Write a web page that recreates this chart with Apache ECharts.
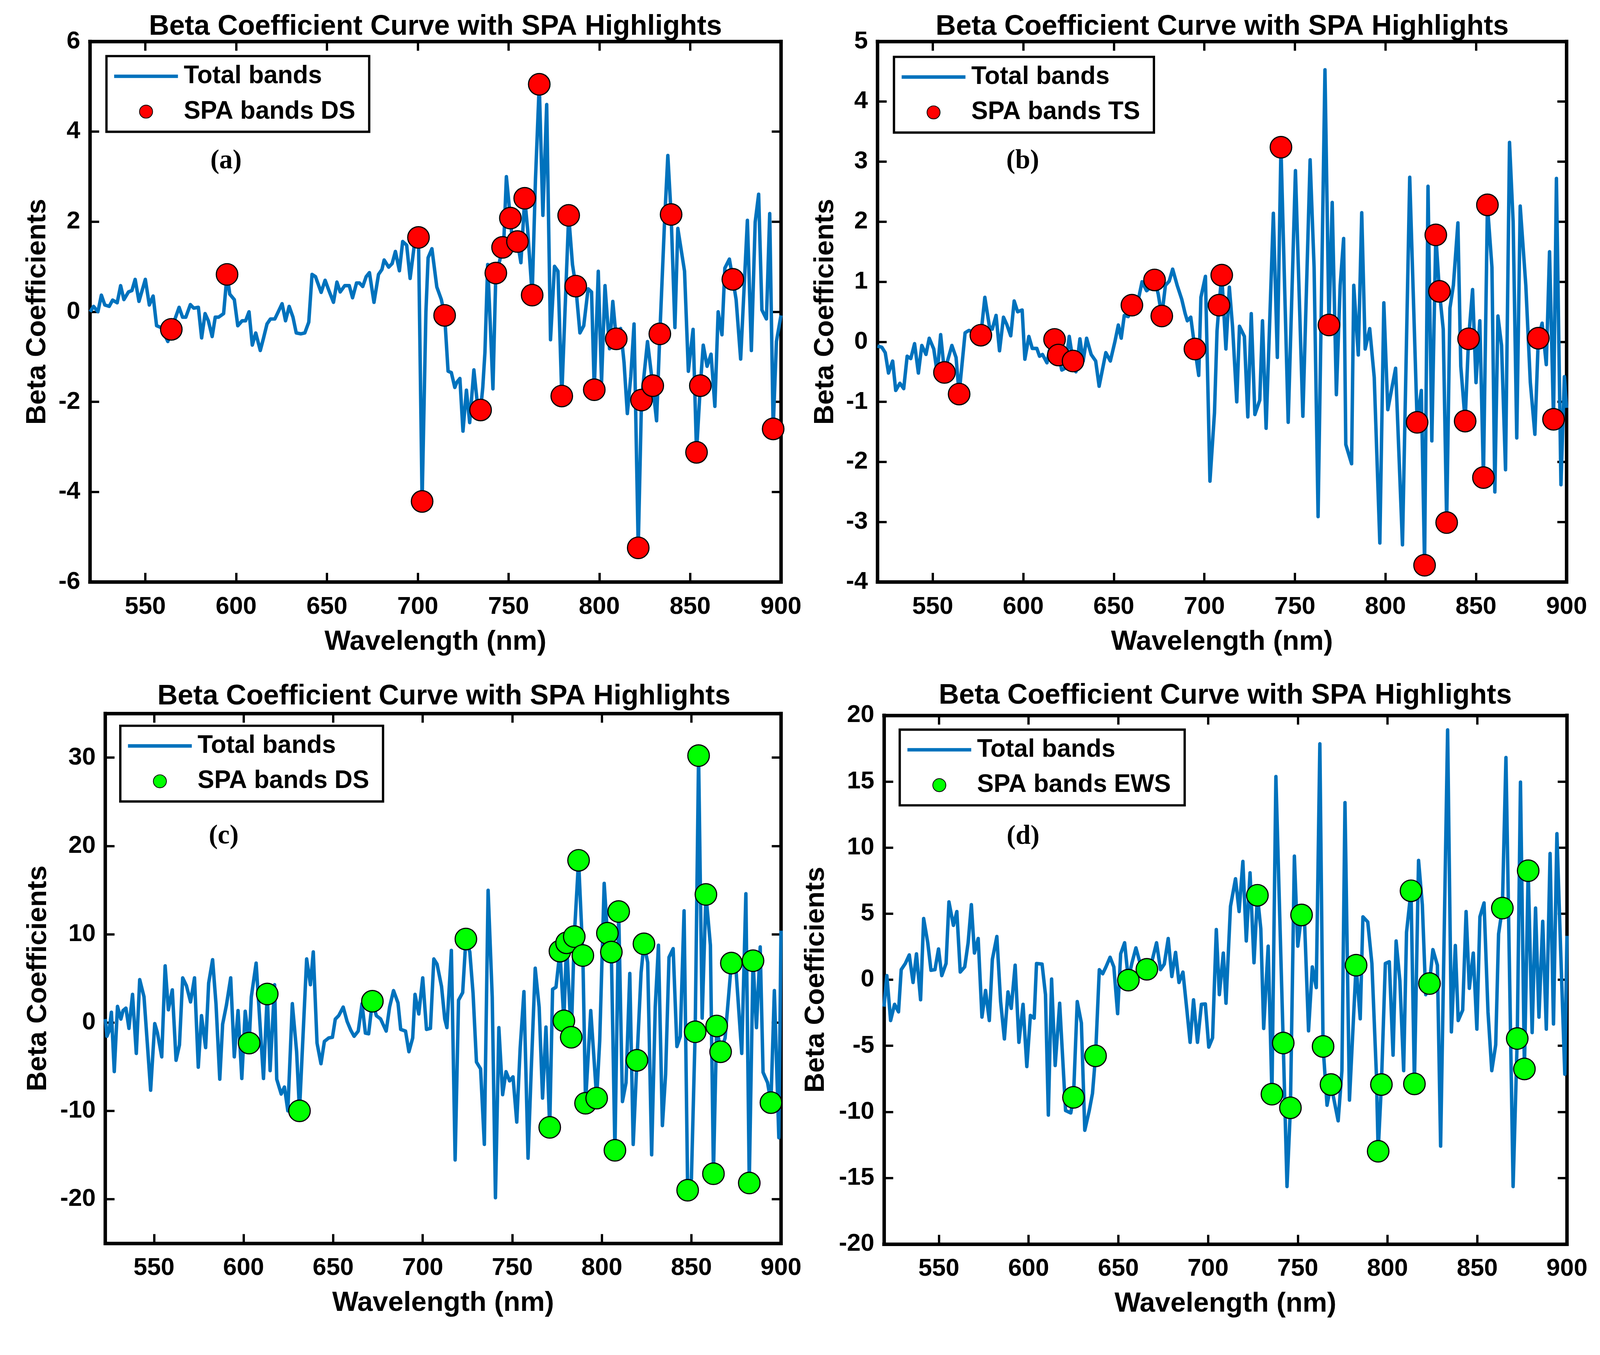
<!DOCTYPE html>
<html>
<head>
<meta charset="utf-8">
<title>Beta Coefficient Curves with SPA Highlights</title>
<script src="https://cdn.jsdelivr.net/npm/echarts@6/dist/echarts.min.js"></script>
<style>
  html, body { margin: 0; padding: 0; background: #fff; overflow: hidden; }
  #chart { width: 100vw; height: 100vh; }
</style>
</head>
<body>
<div id="chart"></div>
<script>
// ---- data ----
var xTicks = [550, 600, 650, 700, 750, 800, 850, 900];
var yTicksA = [-6, -4, -2, 0, 2, 4, 6];
var yTicksB = [-4, -3, -2, -1, 0, 1, 2, 3, 4, 5];
var yTicksC = [-20, -10, 0, 10, 20, 30];
var yTicksD = [-20, -15, -10, -5, 0, 5, 10, 15, 20];

// (a) DS, red markers
var wlA = [519.6,521.5,523.9,525.8,527.7,530.1,532.0,534.5,536.4,538.2,
  540.7,542.6,544.4,546.5,550.0,552.2,554.3,556.2,558.7,562.4,
  564.3,568.6,570.5,572.3,574.8,576.7,579.2,581.0,582.9,584.7,
  586.8,588.5,590.3,593.1,595.0,596.5,599.0,600.9,603.3,605.2,
  607.1,608.9,610.8,613.3,615.1,617.0,618.9,621.3,623.2,625.3,
  627.2,629.2,631.3,633.1,635.6,637.8,640.0,641.8,643.7,646.8,
  649.0,651.1,653.6,655.5,657.3,659.8,662.3,664.1,666.3,667.9,
  669.7,671.6,673.4,675.9,678.4,680.3,681.5,684.0,685.9,687.7,
  689.9,691.7,693.9,695.8,698.3,700.4,702.4,704.5,705.7,707.8,
  710.5,713.0,714.8,716.7,718.5,720.4,721.6,723.2,724.9,726.8,
  728.6,730.9,732.7,734.6,735.8,737.0,738.5,740.1,741.4,743.0,
  745.1,746.7,747.5,748.8,751.0,752.5,754.9,756.8,758.9,760.5,
  763.0,764.8,766.9,768.9,771.0,773.1,775.3,777.2,779.3,783.1,
  785.2,787.0,789.3,791.4,793.8,795.7,797.2,799.4,801.2,803.1,
  805.6,807.4,809.3,811.7,813.6,815.4,817.3,819.1,821.4,823.2,
  826.5,829.4,831.5,833.3,835.8,837.7,839.5,841.6,843.2,846.9,
  849.0,851.6,853.5,855.6,857.2,859.3,861.5,863.6,865.4,867.5,
  869.1,871.6,873.5,875.3,877.8,881.5,883.7,885.8,887.7,889.5,
  892.0,893.8,895.7,897.5,900.0];
var betaA = [0.0,0.12,0.0,0.37,0.15,0.12,0.26,0.2,0.58,0.27,
  0.44,0.47,0.72,0.23,0.72,0.15,0.35,-0.31,-0.35,-0.66,
  -0.39,0.1,-0.12,-0.12,0.16,0.08,0.1,-0.58,-0.04,-0.2,
  -0.55,-0.12,-0.12,-0.04,0.83,0.39,0.27,-0.31,-0.2,-0.2,
  0.0,-0.74,-0.47,-0.86,-0.58,-0.27,-0.16,-0.16,0.0,0.18,
  -0.2,0.12,-0.12,-0.47,-0.49,-0.47,-0.23,0.83,0.78,0.43,
  0.7,0.47,0.21,0.66,0.44,0.58,0.58,0.31,0.64,0.64,
  0.56,0.78,0.87,0.21,0.83,0.94,1.15,0.99,1.07,1.34,
  0.91,1.56,1.48,0.74,1.54,1.65,-4.21,0.0,1.2,1.4,
  0.55,0.27,-0.08,-1.32,-1.35,-1.68,-1.56,-1.48,-2.65,-1.74,
  -2.46,-1.29,-1.99,-2.18,-1.68,-0.9,1.05,-0.43,-1.71,0.86,
  1.13,1.43,1.68,3.0,2.08,1.36,1.56,1.09,2.52,1.83,
  0.37,2.92,5.05,2.14,4.6,-0.62,1.01,0.9,-1.87,2.14,
  1.05,0.57,-0.47,-0.31,0.51,0.44,-1.73,0.9,-1.56,0.58,
  -0.82,0.23,-0.6,-0.37,-1.13,-2.26,-1.44,-0.27,-5.24,-1.96,
  -0.66,-1.64,-2.42,-0.49,1.91,3.47,2.16,-0.35,1.85,0.9,
  -1.32,-0.39,-3.12,-1.64,-0.74,-1.21,-0.94,-2.1,0.0,-0.51,
  0.97,1.17,0.72,0.27,-1.05,2.03,-0.86,1.99,2.61,0.04,
  -0.16,2.18,-2.6,-0.66,-0.08];
var spaWlA = [564.3,595.0,700.4,702.4,714.8,734.6,743.0,746.7,751.0,754.9,758.9,763.0,766.9,779.3,
  783.1,787.0,797.2,809.3,821.4,823.2,829.4,833.3,839.5,853.5,855.6,873.5,895.7];
var spaA = [-0.39,0.83,1.65,-4.21,-0.08,-2.18,0.86,1.43,2.08,1.56,2.52,0.37,5.05,-1.87,
  2.14,0.57,-1.73,-0.6,-5.24,-1.96,-1.64,-0.49,2.16,-3.12,-1.64,0.72,-2.6];

// (b) TS, red markers
var wlB = [519.5,521.9,523.8,525.6,527.9,529.6,531.9,534.0,535.9,537.9,
  540.0,542.1,544.0,546.3,548.1,550.6,552.5,554.4,556.5,557.9,
  560.6,562.9,564.6,567.9,570.0,573.2,576.6,578.8,581.3,582.9,
  585.0,586.9,589.1,590.9,593.1,595.0,596.9,599.4,600.9,603.1,
  605.0,607.5,609.0,610.6,613.1,614.4,617.3,619.4,621.3,623.1,
  625.4,627.5,629.1,631.3,633.1,635.0,637.5,640.0,641.9,645.6,
  648.1,650.6,652.5,654.1,655.8,658.0,660.0,662.5,665.6,668.1,
  670.0,672.5,674.5,676.5,678.5,680.6,682.5,685.0,687.5,689.4,
  690.6,692.5,694.8,696.9,698.1,700.6,703.1,705.6,707.0,708.1,
  709.6,711.9,713.8,715.6,717.9,719.4,722.1,724.0,725.9,727.9,
  730.6,732.1,734.1,738.1,740.3,742.3,746.3,750.3,754.4,758.4,
  760.6,762.8,766.6,768.8,770.6,772.9,775.0,776.9,778.1,781.3,
  782.5,785.0,786.9,788.8,791.3,793.8,796.9,799.1,801.3,805.6,
  809.4,813.4,817.5,819.8,821.6,823.5,825.6,827.8,829.8,831.9,
  833.8,835.6,837.5,840.0,841.6,844.0,845.9,848.1,850.0,852.1,
  854.1,856.3,858.8,860.4,862.1,864.1,866.3,868.5,870.5,872.5,
  874.4,877.5,880.0,882.5,884.4,886.5,888.8,890.6,892.8,894.4,
  896.9,898.8,900.0];
var betaB = [-0.07,-0.09,-0.18,-0.52,-0.32,-0.81,-0.69,-0.78,-0.24,-0.28,
  -0.03,-0.52,-0.06,-0.21,0.06,-0.12,-0.52,0.12,-0.51,-0.35,
  -0.06,-0.26,-0.87,0.15,0.19,0.15,0.11,0.74,0.26,0.21,
  0.44,-0.15,0.41,0.29,0.1,0.68,0.5,0.53,-0.29,0.09,
  -0.11,-0.11,-0.24,-0.21,-0.35,-0.15,0.04,-0.22,-0.47,-0.44,
  0.09,-0.32,-0.5,0.05,-0.32,0.06,-0.21,-0.32,-0.74,-0.18,
  -0.32,0.0,0.28,0.06,0.44,0.42,0.61,0.55,1.0,0.85,
  0.9,1.03,0.8,0.43,0.94,1.01,1.21,0.94,0.71,0.47,
  0.35,0.41,-0.12,-0.56,0.74,1.09,-2.32,-1.18,0.18,0.61,
  1.11,-0.12,0.91,0.24,-1.0,0.26,0.09,-1.25,0.47,-1.21,
  -0.97,0.35,-1.44,2.14,-0.26,3.24,-1.34,2.85,-1.24,3.03,
  1.24,-2.91,4.53,0.28,2.32,-0.88,0.94,1.72,-1.71,-2.03,
  0.94,-0.22,2.15,-0.12,0.22,-0.59,-3.35,0.65,-1.13,-0.44,
  -3.38,2.74,-1.34,-0.81,-3.72,2.59,-1.65,1.78,0.84,0.21,
  -3.01,0.56,0.94,1.98,-0.41,-1.32,0.05,0.87,-0.68,0.35,
  -2.26,2.28,1.24,-2.5,0.43,-0.06,-2.13,3.32,2.0,-1.6,
  2.26,0.94,-0.68,-1.54,0.06,0.31,-0.38,1.5,-1.29,2.72,
  -2.38,-0.58,-1.1];
var spaWlB = [556.5,564.6,576.6,617.3,619.4,627.5,660.0,672.5,676.5,694.8,708.1,709.6,742.3,
  768.8,817.5,821.6,827.8,829.8,833.8,844.0,845.9,854.1,856.3,884.4,892.8];
var spaB = [-0.51,-0.87,0.11,0.04,-0.22,-0.32,0.61,1.03,0.43,-0.12,0.61,1.11,3.24,
  0.28,-1.34,-3.72,1.78,0.84,-3.01,-1.32,0.05,-2.26,2.28,0.06,-1.29];

// (c) DS, green markers
var wlC = [522.8,523.7,524.9,526.2,527.8,529.6,531.5,532.7,534.3,536.0,
  538.0,540.1,542.0,544.4,546.3,548.1,550.4,551.9,554.3,556.2,
  558.0,560.2,562.3,564.2,566.0,568.1,570.4,572.6,574.7,576.5,
  578.8,580.5,582.7,584.6,586.7,588.3,590.4,592.8,594.8,596.9,
  599.0,600.9,603.1,604.3,607.0,611.1,613.2,614.8,617.3,618.5,
  621.0,622.8,624.7,627.2,629.6,631.2,635.2,637.3,638.9,641.0,
  643.2,645.1,647.5,649.6,651.2,653.1,655.6,657.8,659.9,661.7,
  664.0,666.1,668.0,669.8,671.9,674.1,676.5,679.6,681.5,683.7,
  686.2,687.7,690.4,692.3,694.4,695.7,697.8,700.0,702.1,704.3,
  706.2,708.0,710.5,712.3,713.5,716.0,718.1,720.0,722.3,724.1,
  726.3,728.1,730.0,732.3,734.4,736.5,738.8,740.6,742.5,744.6,
  746.5,748.5,750.4,752.5,754.4,756.5,758.8,760.6,762.8,765.0,
  766.9,768.8,770.9,772.5,774.4,776.6,778.8,780.3,782.9,784.6,
  787.0,789.4,790.9,793.8,797.1,798.8,801.3,803.1,805.3,807.3,
  809.4,811.5,813.5,815.6,817.5,819.6,821.9,823.5,825.6,827.8,
  829.8,831.6,833.8,835.6,837.5,839.8,841.9,843.8,845.9,847.9,
  850.0,852.1,854.0,856.0,858.1,860.6,862.3,864.1,866.3,868.8,
  872.3,875.0,878.1,880.4,882.3,884.4,886.3,888.4,890.0,892.5,
  894.4,896.3,898.8,900.0];
var betaC = [0.4,-1.56,-0.97,1.17,-5.56,1.83,0.39,1.36,1.63,-0.66,
  3.19,-3.5,4.86,2.92,-2.5,-7.67,-0.12,-1.17,-3.89,6.42,
  1.44,3.7,-4.28,-2.53,5.06,4.16,2.33,5.06,-5.06,0.78,
  -2.84,4.47,7.12,2.1,-6.42,-0.19,1.95,5.06,-3.89,1.36,
  -6.34,1.28,-2.33,2.9,6.73,-6.34,3.23,-5.45,4.28,-6.42,
  -8.1,-7.3,-10.0,2.14,-3.3,-10.0,7.2,4.28,8.0,-2.33,
  -4.67,-2.14,-1.75,-1.67,0.39,0.78,1.75,0.12,-0.9,-1.56,
  -0.97,2.14,-1.2,-1.28,2.41,0.78,0.4,-0.97,1.75,3.62,
  2.22,-0.78,-0.97,-3.31,-1.75,3.19,0.97,5.06,-0.78,-0.66,
  7.2,6.61,4.09,0.39,-0.58,8.17,-15.56,2.53,3.39,9.46,
  7.98,3.3,-4.47,-5.25,-13.8,14.98,2.9,-19.84,-0.58,-8.17,
  -5.56,-6.61,-6.15,-11.28,-2.9,3.5,-15.37,-5.25,6.15,1.75,
  -8.56,-0.51,-11.87,3.77,4.0,8.09,0.19,9.03,-1.67,9.73,
  18.37,7.59,-9.14,1.36,-8.56,-2.1,15.76,10.12,7.98,-14.47,
  12.57,-8.95,-6.81,5.56,-13.81,-4.28,5.64,8.91,6.81,-14.98,
  1.75,8.75,-11.67,-5.84,7.39,8.37,-2.72,-1.56,12.65,-18.99,
  -17.7,-1.05,30.23,0.5,14.51,8.75,-17.12,-0.39,-3.31,-1.75,
  6.73,5.64,-3.5,14.59,-18.17,7.0,-0.58,8.56,-5.64,-6.8,
  -9.07,3.62,-13.04,10.4];
var spaWlC = [603.1,613.2,631.2,671.9,724.1,770.9,776.6,778.8,780.3,782.9,784.6,787.0,789.4,790.9,
  797.1,803.1,805.3,807.3,809.4,819.6,823.5,847.9,852.1,854.0,858.1,862.3,864.1,866.3,872.3,
  882.3,884.4,894.4];
var spaC = [-2.33,3.23,-10.0,2.41,9.46,-11.87,8.09,0.19,9.03,-1.67,9.73,18.37,7.59,-9.14,
  -8.56,10.12,7.98,-14.47,12.57,-4.28,8.91,-18.99,-1.05,30.23,14.51,-17.12,-0.39,-3.31,6.73,
  -18.17,7.0,-9.07];

// (d) EWS, green markers
var wlD = [519.4,521.0,523.1,525.3,527.5,529.0,531.3,533.5,535.6,537.5,
  539.8,541.5,543.8,545.6,547.8,549.8,551.6,554.0,555.6,558.1,
  560.0,561.9,564.4,566.3,568.1,569.8,571.9,574.0,576.0,578.1,
  579.8,582.3,584.4,586.5,588.5,590.3,592.5,594.6,596.9,599.0,
  601.0,603.1,604.4,607.5,609.4,611.0,612.8,614.8,617.3,620.6,
  623.5,625.0,627.1,629.4,631.3,633.8,635.6,637.3,639.4,641.3,
  643.1,645.4,647.5,649.6,651.3,653.5,655.6,657.5,659.8,661.9,
  665.9,668.0,671.3,673.5,675.6,677.8,679.8,681.9,683.8,686.0,
  688.1,690.0,691.9,694.1,696.3,698.5,700.4,702.5,704.6,706.3,
  708.5,710.0,712.5,715.3,717.3,719.4,721.3,723.4,725.6,727.5,
  729.4,731.0,733.5,735.6,737.8,741.9,744.0,745.9,748.1,750.0,
  752.1,753.8,756.0,758.1,760.3,762.3,764.1,766.3,768.5,772.5,
  774.6,776.3,778.8,782.5,784.8,786.3,789.0,791.3,793.8,794.8,
  796.6,798.8,801.0,803.1,804.8,806.9,809.0,810.6,813.1,815.0,
  817.3,819.4,821.3,823.4,825.3,827.8,829.6,833.5,835.6,837.8,
  839.4,841.9,843.8,845.6,847.8,849.8,851.5,853.8,856.0,858.1,
  860.3,861.9,864.0,866.0,870.0,872.3,874.1,876.3,878.4,880.6,
  882.5,884.4,886.5,888.5,890.6,892.5,894.4,896.5,898.8,900.0];
var betaD = [-2.04,0.31,-3.09,-1.86,-2.43,0.76,1.23,1.88,-0.21,1.96,
  -1.52,4.63,2.8,0.71,0.76,2.33,0.31,1.23,5.89,4.11,
  5.16,0.58,0.97,2.8,5.68,2.02,3.12,-2.83,-0.81,-3.09,
  1.54,3.27,-1.65,-4.48,-0.92,-2.17,1.1,-4.74,-1.86,-6.57,
  -2.7,-2.91,1.23,1.18,-1.13,-10.24,0.05,-6.49,-1.78,-9.9,
  -10.08,-8.9,-1.65,-3.27,-11.39,-9.9,-8.59,-5.76,0.76,0.45,
  0.97,1.7,0.97,-2.57,1.96,2.8,-0.03,1.23,2.41,1.36,
  0.79,1.0,2.8,0.76,1.18,3.12,0.24,2.07,-0.21,0.58,
  -2.17,-4.74,-1.52,-4.74,-1.86,-1.83,-5.1,-4.4,3.8,-1.13,
  2.02,-1.78,5.55,7.64,5.16,8.95,2.93,8.09,1.28,6.39,
  3.85,-3.69,2.54,-8.66,15.37,-4.79,-15.65,-9.69,9.35,2.54,
  4.9,4.3,-3.87,0.97,-0.6,17.85,-5.05,-9.5,-7.93,-10.68,
  -6.88,13.4,-9.11,1.1,-2.96,4.76,4.37,1.23,-7.15,-12.98,
  -7.93,1.23,1.36,-5.71,2.93,-0.08,-6.88,3.59,6.73,-7.88,
  9.03,5.68,-1.13,-0.29,2.28,1.1,-12.59,18.9,-3.95,2.59,
  -3.09,-2.3,5.16,-0.65,2.02,-3.74,4.76,5.81,-2.43,-6.88,
  -4.92,3.46,5.42,16.81,-15.65,-4.45,14.95,-6.75,8.25,-4.0,
  5.42,-2.83,4.42,-3.74,9.55,-3.35,11.05,2.2,-7.15,3.32];
var spaWlD = [625.0,637.3,655.6,665.9,727.5,735.6,741.9,745.9,752.1,764.1,768.5,782.5,794.8,796.6,
  813.1,815.0,823.4,864.0,872.3,876.3,878.4];
var spaD = [-8.9,-5.76,-0.03,0.79,6.39,-8.66,-4.79,-9.69,4.9,-5.05,-7.93,1.1,-12.98,-7.93,
  6.73,-7.88,-0.29,5.42,-4.45,-6.75,8.25];

// ---- styling / layout (designed for a 4163 x 3470 page, scaled to the real size) ----
var SANS = '"Liberation Sans", Arial, Helvetica, sans-serif';
var SERIF = '"Liberation Serif", "Times New Roman", serif';
var BLUE = '#0072BD';
var TITLE = 'Beta Coefficient Curve with SPA Highlights';

var panels = [
  { tag: '(a)', wl: wlA, beta: betaA, spaWl: spaWlA, spa: spaA, spaName: 'SPA bands DS', spaColor: '#FF0000',
    yTicks: yTicksA, box: [234, 108, 2032, 1515], xMin: 519.5, yMin: -6, yMax: 6, yNameGap: 100,
    legendPos: [277, 146], tagPos: [588, 420], titlePos: [1133, 70] },
  { tag: '(b)', wl: wlB, beta: betaB, spaWl: spaWlB, spa: spaB, spaName: 'SPA bands TS', spaColor: '#FF0000',
    yTicks: yTicksB, box: [2283, 108, 4076, 1515], xMin: 519.5, yMin: -4, yMax: 5, yNameGap: 99,
    legendPos: [2326, 148], tagPos: [2661, 420], titlePos: [3180, 70] },
  { tag: '(c)', wl: wlC, beta: betaC, spaWl: spaWlC, spa: spaC, spaName: 'SPA bands DS', spaColor: '#00FF00',
    yTicks: yTicksC, box: [274, 1857, 2032, 3236], xMin: 522.8, yMin: -25, yMax: 35, yNameGap: 138,
    legendPos: [313, 1889], tagPos: [582, 2177], titlePos: [1155, 1813] },
  { tag: '(d)', wl: wlD, beta: betaD, spaWl: spaWlD, spa: spaD, spaName: 'SPA bands EWS', spaColor: '#00FF00',
    yTicks: yTicksD, box: [2300, 1862, 4077, 3238], xMin: 519.4, yMin: -20, yMax: 20, yNameGap: 140,
    legendPos: [2341, 1899], tagPos: [2662, 2178], titlePos: [3188, 1811] }
];

function pairs(xs, ys) {
  var out = [];
  for (var i = 0; i < xs.length; i++) out.push([xs[i], ys[i]]);
  return out;
}

var chart = echarts.init(document.getElementById('chart'));
var k = Math.min(chart.getWidth() / 4163, chart.getHeight() / 3470);
function S(v) { return v * k; }

var option = {
  backgroundColor: '#ffffff',
  animation: false,
  grid: [], xAxis: [], yAxis: [], legend: [], series: [], graphic: []
};

var boxLine = { onZero: false, lineStyle: { color: '#000', width: S(9), cap: 'square' } };
var labelFont = { fontFamily: SANS, fontWeight: 'bold', fontSize: S(64), color: '#000' };
var nameFont = { fontFamily: SANS, fontWeight: 'bold', fontSize: S(72), color: '#000' };

function ticks(vals) {
  return { inside: true, length: S(24), customValues: vals, lineStyle: { color: '#000', width: S(6) } };
}

panels.forEach(function (p, i) {
  var b = p.box;
  option.grid.push({ left: S(b[0]), top: S(b[1]), width: S(b[2] - b[0]), height: S(b[3] - b[1]) });

  // bottom + mirrored top x axis
  option.xAxis.push({
    type: 'value', gridIndex: i, min: p.xMin, max: 900, position: 'bottom',
    axisLine: boxLine, axisTick: ticks(xTicks), splitLine: { show: false },
    axisLabel: Object.assign({ customValues: xTicks, margin: S(33) }, labelFont),
    name: 'Wavelength (nm)', nameLocation: 'middle', nameGap: S(120), nameTextStyle: nameFont
  });
  option.xAxis.push({
    type: 'value', gridIndex: i, min: p.xMin, max: 900, position: 'top',
    axisLine: boxLine, axisTick: ticks(xTicks), axisLabel: { show: false }, splitLine: { show: false }
  });

  // left + mirrored right y axis
  option.yAxis.push({
    type: 'value', gridIndex: i, min: p.yMin, max: p.yMax, position: 'left',
    axisLine: boxLine, axisTick: ticks(p.yTicks), splitLine: { show: false },
    axisLabel: Object.assign({ customValues: p.yTicks, margin: S(25) }, labelFont),
    name: 'Beta Coefficients', nameLocation: 'middle', nameGap: S(p.yNameGap), nameRotate: 90,
    nameTextStyle: nameFont
  });
  option.yAxis.push({
    type: 'value', gridIndex: i, min: p.yMin, max: p.yMax, position: 'right',
    axisLine: boxLine, axisTick: ticks(p.yTicks), axisLabel: { show: false }, splitLine: { show: false }
  });

  option.series.push({
    type: 'line', name: 'Total bands', xAxisIndex: 2 * i, yAxisIndex: 2 * i,
    data: pairs(p.wl, p.beta), symbol: 'none', showSymbol: false,
    lineStyle: { color: BLUE, width: S(9), join: 'round' }, itemStyle: { color: BLUE }, z: 2
  });
  option.series.push({
    type: 'scatter', name: p.spaName, xAxisIndex: 2 * i, yAxisIndex: 2 * i,
    data: pairs(p.spaWl, p.spa), symbol: 'circle', symbolSize: S(56),
    itemStyle: { color: p.spaColor, borderColor: '#000', borderWidth: S(3), opacity: 1 }, z: 3
  });

  option.legend.push({
    orient: 'vertical', left: S(p.legendPos[0]), top: S(p.legendPos[1]),
    padding: [S(20), S(36), S(20), S(20)], itemGap: S(27), itemWidth: S(166), itemHeight: S(34),
    borderColor: '#000', borderWidth: S(6), borderRadius: 0, backgroundColor: '#fff',
    selectedMode: false,
    textStyle: { fontFamily: SANS, fontWeight: 'bold', fontSize: S(65), color: '#000', padding: [0, 0, 0, S(10)] },
    data: [
      { name: 'Total bands', icon: 'path://M0,0L166,0L166,9L0,9Z', itemStyle: { color: BLUE, borderWidth: 0 } },
      { name: p.spaName, icon: 'circle', itemStyle: { color: p.spaColor, borderColor: '#000', borderWidth: S(2) } }
    ]
  });

  option.graphic.push({
    type: 'text', x: S(p.titlePos[0]), y: S(p.titlePos[1]), z: 10,
    style: { text: TITLE, fill: '#000', fontFamily: SANS, fontWeight: 'bold', fontSize: S(73),
             align: 'center', verticalAlign: 'middle' }
  });
  option.graphic.push({
    type: 'text', x: S(p.tagPos[0]), y: S(p.tagPos[1]), z: 10,
    style: { text: p.tag, fill: '#000', fontFamily: SERIF, fontWeight: 'bold', fontSize: S(70),
             align: 'center', verticalAlign: 'middle' }
  });
});

chart.setOption(option);
</script>
</body>
</html>
